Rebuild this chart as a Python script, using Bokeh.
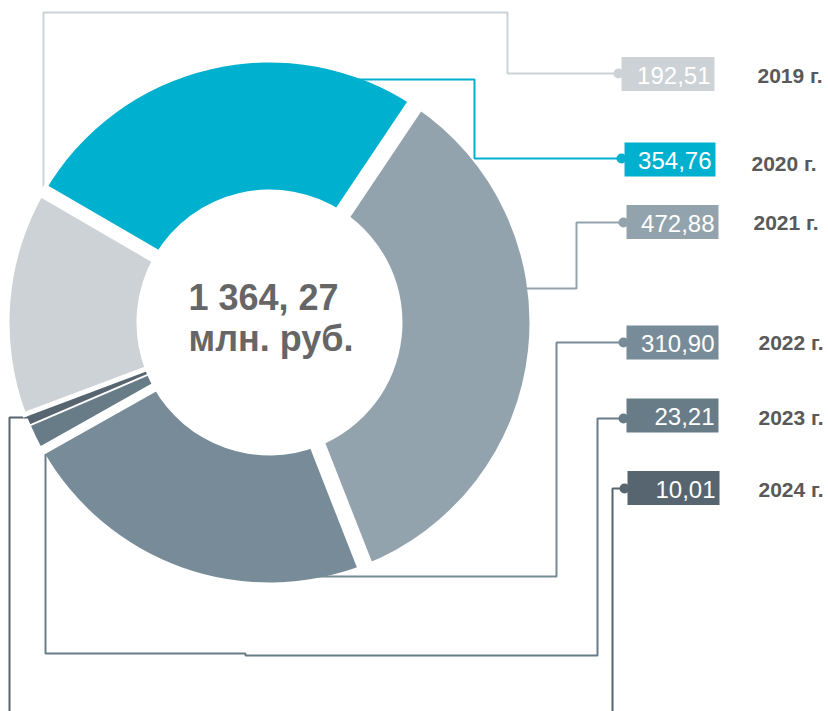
import numpy as np
from bokeh.plotting import figure
from bokeh.models import Range1d
from bokeh.embed import file_html
from bokeh.resources import INLINE
from bokeh.core.properties import value

# ---------------- data ----------------
years = ["2019 г.", "2020 г.", "2021 г.", "2022 г.", "2023 г.", "2024 г."]
values = [192.51, 354.76, 472.88, 310.90, 23.21, 10.01]
unit = "млн. руб."

colors = ["#cdd2d7", "#00b0cf", "#93a3ad", "#778c98", "#687c87", "#56656f"]

# ---------------- layout (image pixel coords, y down) ----------------
CX, CY = 269, 322
R_OUT, R_IN = 260, 133
START_DEG = 200.6
gap_w = [5, 14, 17, 16, 9, 2]  # white gaps at start boundary of each slice

box_left = [621, 624, 626, 626, 626, 627]
box_right = [714, 715, 718, 718, 718, 719]
box_cy = [73.5, 159, 221.5, 342, 415, 487.5]
box_h = 34
year_x = [757, 751, 753, 758, 758, 758]
year_cy = [75, 163, 222, 342, 417, 489]

leaders = [
    [(43, 215), (43, 12), (507, 12), (507, 73), (622, 73)],
    [(330, 79), (474, 79), (474, 158), (622, 158)],
    [(510, 288), (576, 288), (576, 222), (622, 222)],
    [(318, 576), (556, 576), (556, 342), (622, 342)],
    [(45, 440), (45, 653), (245, 653), (245, 655), (597, 655), (597, 418), (622, 418)],
    [(32, 417), (9, 417), (9, 720)],
]
leader_extra = [(5, [(612, 720), (612, 488), (622, 488)])]
dot_y = [73, 158, 222, 342, 418, 488]

W, H = 828, 711
p = figure(width=W, height=H, output_backend="svg", toolbar_location=None,
           x_range=Range1d(0, W), y_range=Range1d(-H, 0),
           min_border=0, border_fill_color="white", background_fill_color="white")
p.axis.visible = False
p.grid.visible = False
p.outline_line_color = None

# leader lines
for i, path in enumerate(leaders):
    p.line([pt[0] for pt in path], [-pt[1] for pt in path], line_color=colors[i], line_width=2)
for i, path in leader_extra:
    p.line([pt[0] for pt in path], [-pt[1] for pt in path], line_color=colors[i], line_width=2)

# donut
total = float(sum(values))
cum = np.concatenate([[0.0], np.cumsum(values)])
starts = np.deg2rad(START_DEG - 360.0 * cum[:-1] / total)
ends = np.deg2rad(START_DEG - 360.0 * cum[1:] / total)
p.annular_wedge(x=CX, y=-CY, inner_radius=R_IN, outer_radius=R_OUT,
                start_angle=starts, end_angle=ends, direction="clock",
                fill_color=colors, line_color=None)

# white gaps between slices
for a, w in zip(starts, gap_w):
    r0, r1 = R_IN - 4, R_OUT + 4
    p.segment(x0=CX + r0 * np.cos(a), y0=-CY + r0 * np.sin(a),
              x1=CX + r1 * np.cos(a), y1=-CY + r1 * np.sin(a),
              line_color="white", line_width=w, line_cap="butt")

# dots and boxes
p.scatter(x=[l - 3 for l in box_left], y=[-y for y in dot_y], size=10,
          fill_color=colors, line_color=None)
p.quad(left=box_left, right=box_right,
       top=[-(c - box_h / 2) for c in box_cy], bottom=[-(c + box_h / 2) for c in box_cy],
       fill_color=colors, line_color=None)

labels = [f"{v:.2f}".replace(".", ",") for v in values]
p.text(x=[r - 4 for r in box_right], y=[-(c + 1) for c in box_cy], text=labels,
       text_align="right", text_baseline="middle", text_color="white",
       text_font=value("Liberation Sans"), text_font_size="24px")

p.text(x=year_x, y=[-c for c in year_cy], text=years,
       text_align="left", text_baseline="middle", text_color="#595959",
       text_font=value("Liberation Sans"), text_font_size="21px", text_font_style="bold")

# centre total
ip = int(total)
dec = int(round((total - ip) * 100))
total_label = f"{ip:,}".replace(",", " ") + f", {dec:02d}"
p.text(x=[188, 188], y=[-297, -338], text=[total_label, unit],
       text_align="left", text_baseline="alphabetic", text_color="#666666",
       text_font=value("Liberation Sans"), text_font_size="36px", text_font_style="bold")

open("out.html", "w").write(file_html(p, INLINE))
